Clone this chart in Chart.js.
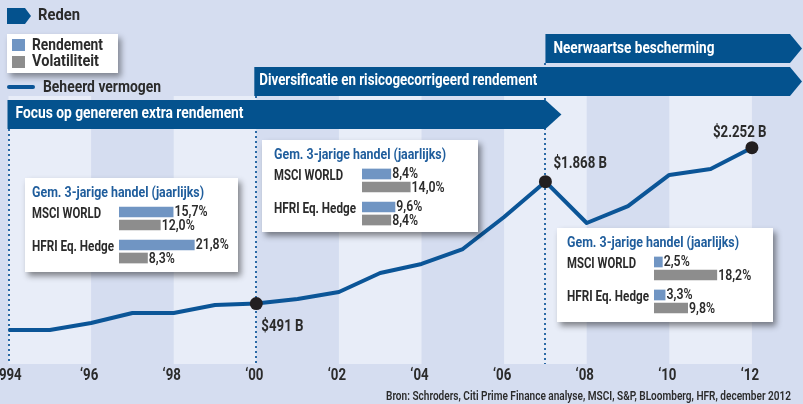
<!DOCTYPE html>
<html>
<head>
<meta charset="utf-8">
<script src="https://cdn.jsdelivr.net/npm/chart.js@4.4.1/dist/chart.umd.min.js"></script>
<style>
    html, body { margin: 0; padding: 0; background: #d5ddf0; }
    #wrap { position: relative; width: 803px; height: 404px; overflow: hidden; }
    #main { position: absolute; left: 0; top: 0; }
    .box { position: absolute; background: #fff; box-shadow: 3px 4px 6px rgba(0, 0, 0, 0.45); }
    .box canvas { position: absolute; left: 0; top: 0; }
</style>
</head>
<body>
<div id="wrap">
    <canvas id="main" width="803" height="404"></canvas>
    <div class="box" id="box1"><canvas id="c1"></canvas></div>
    <div class="box" id="box2"><canvas id="c2"></canvas></div>
    <div class="box" id="box3"><canvas id="c3"></canvas></div>
</div>
<script>
// Beheerd vermogen (miljard $) per jaar
const years = [1994, 1995, 1996, 1997, 1998, 1999, 2000, 2001, 2002, 2003, 2004, 2005, 2006, 2007, 2008, 2009, 2010, 2011, 2012];
const aum = [192, 192, 271, 384, 384, 475, 491, 542, 622, 836, 938, 1107, 1469, 1868, 1401, 1593, 1944, 2011, 2252];

const markedYears = [2000, 2007, 2012];
const markedLabels = ['$491 B', '$1.868 B', '$2.252 B'];

const tickYears = [1994, 1996, 1998, 2000, 2002, 2004, 2006, 2008, 2010, 2012];
const tickLabels = ['1994', '\u201896', '\u201898', '\u201800', '\u201802', '\u201804', '\u201806', '\u201808', '\u201810', '\u201812'];

const phaseNames = ['Focus op genereren extra rendement', 'Diversificatie en risicogecorrigeerd rendement', 'Neerwaartse bescherming'];
const phaseStart = [1994, 2000, 2007];

const boxTitle = 'Gem. 3-jarige handel (jaarlijks)';
const boxRows = ['MSCI WORLD', 'HFRI Eq. Hedge'];
const rendement1 = [15.7, 21.8];
const volatiliteit1 = [12.0, 8.3];
const rendement2 = [8.4, 9.6];
const volatiliteit2 = [14.0, 8.4];
const rendement3 = [2.5, 3.3];
const volatiliteit3 = [18.2, 9.8];

const sourceText = 'Bron: Schroders, Citi Prime Finance analyse, MSCI, S&P, BLoomberg, HFR, december 2012';

// colours
const BG_LIGHT = '#e8edf8';
const NAVY = '#04528e';
const LINE = '#0b5597';
const TEXT = '#2b2b2b';
const TITLE_BLUE = '#1f5d9c';
const BAR_BLUE = '#7095c3';
const BAR_GREY = '#8d8d8d';
const FONT = 'Roboto, "Liberation Sans", sans-serif';

// draw text, optionally squeezed to a target width
function drawText(ctx, text, x, y, opts) {
    ctx.save();
    ctx.font = opts.font;
    ctx.fillStyle = opts.color || TEXT;
    ctx.textBaseline = 'middle';
    const w = ctx.measureText(text).width;
    const sx = opts.width ? opts.width / w : (opts.sx || 0.82);
    let left = x;
    if (opts.align === 'center') left = x - w * sx / 2;
    if (opts.align === 'right') left = x - w * sx;
    ctx.translate(left, y);
    ctx.scale(sx, 1);
    ctx.textAlign = 'left';
    ctx.fillText(text, 0, 0);
    ctx.restore();
}

function banner(ctx, x0, x1, top, h, tip) {
    ctx.beginPath();
    ctx.moveTo(x0, top);
    ctx.lineTo(x1, top);
    ctx.lineTo(x1 + tip, top + h / 2);
    ctx.lineTo(x1, top + h);
    ctx.lineTo(x0, top + h);
    ctx.closePath();
    ctx.fill();
}

const backdrop = {
    id: 'backdrop',
    beforeDatasetsDraw(chart) {
        const ctx = chart.ctx;
        const xs = chart.scales.x;
        ctx.save();
        // stripes
        ctx.fillStyle = BG_LIGHT;
        for (let i = 0; i < tickYears.length - 1; i += 2) {
            const a = xs.getPixelForValue(tickYears[i]);
            const b = xs.getPixelForValue(tickYears[i + 1]);
            ctx.fillRect(a, 96, b - a, 268);
        }
        // dotted phase lines
        const lineTops = [129, 96, 63];
        ctx.strokeStyle = '#2b6aa6';
        ctx.lineWidth = 2;
        ctx.setLineDash([2, 3]);
        phaseStart.forEach((yr, i) => {
            const px = Math.round(xs.getPixelForValue(yr));
            ctx.beginPath();
            ctx.moveTo(px, lineTops[i]);
            ctx.lineTo(px, 364);
            ctx.stroke();
        });
        ctx.setLineDash([]);

        // banners
        ctx.fillStyle = NAVY;
        const p0 = xs.getPixelForValue(phaseStart[0]);
        const p1 = xs.getPixelForValue(phaseStart[1]);
        const p2 = xs.getPixelForValue(phaseStart[2]);
        banner(ctx, p2, 790, 34, 29, 12);
        banner(ctx, p1 - 2, 790, 67, 29, 12);
        banner(ctx, p0 - 1, p2, 100, 29, 16);
        drawText(ctx, phaseNames[2], p2 + 8, 49, { font: 'bold 16px ' + FONT, color: '#fff', width: 161 });
        drawText(ctx, phaseNames[1], p1 + 3, 81, { font: 'bold 16px ' + FONT, color: '#fff', width: 278 });
        drawText(ctx, phaseNames[0], p0 + 7, 114, { font: 'bold 16px ' + FONT, color: '#fff', width: 228 });

        // legend
        ctx.fillStyle = NAVY;
        banner(ctx, 7, 25, 8, 16, 6);
        drawText(ctx, 'Reden', 38, 16, { font: 'bold 16px ' + FONT, width: 42 });

        ctx.save();
        ctx.shadowColor = 'rgba(0,0,0,0.4)';
        ctx.shadowBlur = 6;
        ctx.shadowOffsetX = 3;
        ctx.shadowOffsetY = 4;
        ctx.fillStyle = '#fff';
        ctx.fillRect(7, 34, 111, 39);
        ctx.restore();
        ctx.fillStyle = BAR_BLUE;
        ctx.fillRect(12, 39, 13, 12);
        ctx.fillStyle = BAR_GREY;
        ctx.fillRect(12, 56, 13, 12);
        drawText(ctx, 'Rendement', 32, 46, { font: 'bold 16px ' + FONT, width: 71 });
        drawText(ctx, 'Volatiliteit', 32, 62, { font: 'bold 16px ' + FONT, width: 67 });

        ctx.strokeStyle = LINE;
        ctx.lineWidth = 4;
        ctx.lineCap = 'round';
        ctx.beginPath();
        ctx.moveTo(9, 87);
        ctx.lineTo(33, 87);
        ctx.stroke();
        drawText(ctx, 'Beheerd vermogen', 43, 88, { font: 'bold 16px ' + FONT, width: 118 });
        ctx.restore();
    },
    afterDatasetsDraw(chart) {
        const ctx = chart.ctx;
        const xs = chart.scales.x;
        const ys = chart.scales.y;
        // point labels
        const offs = [[5, 23], [8, -18], [-39, -15]];
        markedYears.forEach((yr, i) => {
            const v = aum[years.indexOf(yr)];
            const px = xs.getPixelForValue(yr) + offs[i][0];
            const py = ys.getPixelForValue(v) + offs[i][1];
            drawText(ctx, markedLabels[i], px, py, { font: 'bold 17px ' + FONT, sx: 0.78 });
        });
        // year ticks
        tickYears.forEach((yr, i) => {
            const px = xs.getPixelForValue(yr) - 2;
            drawText(ctx, tickLabels[i], px, 376, { font: 'bold 17px ' + FONT, align: 'center', sx: 0.78 });
        });
        drawText(ctx, sourceText, 791, 397, { font: '600 12px ' + FONT, align: 'right', width: 405 });
    }
};

new Chart(document.getElementById('main'), {
    type: 'line',
    data: {
        datasets: [{
            label: 'Beheerd vermogen',
            data: years.map((yr, i) => ({ x: yr, y: aum[i] })),
            borderColor: LINE,
            borderWidth: 4,
            borderJoinStyle: 'round',
            tension: 0,
            pointRadius: ctx => markedYears.includes(years[ctx.dataIndex]) ? 6.5 : 0,
            pointBackgroundColor: '#231f20',
            pointBorderColor: '#231f20',
            pointBorderWidth: 0
        }]
    },
    options: {
        responsive: false,
        animation: false,
        devicePixelRatio: 1,
        layout: { padding: 0, autoPadding: false },
        plugins: { legend: { display: false }, tooltip: { enabled: false } },
        scales: {
            x: { type: 'linear', display: false, min: 1993.794, max: 2013.237 },
            y: { type: 'linear', display: false, min: -644, max: 3921 }
        }
    },
    plugins: [backdrop]
});

// inset bar charts
function makeBox(boxId, canvasId, rend, vola, lay) {
    const box = document.getElementById(boxId);
    box.style.left = lay.left + 'px';
    box.style.top = lay.top + 'px';
    box.style.width = lay.width + 'px';
    box.style.height = lay.height + 'px';
    const cv = document.getElementById(canvasId);
    cv.width = lay.width;
    cv.height = lay.height;

    const labels = {
        id: 'boxLabels',
        afterDatasetsDraw(chart) {
            const ctx = chart.ctx;
            drawText(ctx, boxTitle, lay.textLeft, 15, { font: 'bold 15px ' + FONT, color: TITLE_BLUE, width: 172 });
            const m0 = chart.getDatasetMeta(0);
            const rowW = [69, 82];
            boxRows.forEach((r, i) => {
                drawText(ctx, r, lay.textLeft, m0.data[i].y + 2, { font: 'bold 15px ' + FONT, width: rowW[i] });
            });
            chart.data.datasets.forEach((ds, d) => {
                const meta = chart.getDatasetMeta(d);
                ds.data.forEach((v, i) => {
                    const bar = meta.data[i];
                    drawText(ctx, v.toFixed(1).replace('.', ',') + '%', bar.x + 1, bar.y + 1, { font: '600 14px ' + FONT, sx: 0.88 });
                });
            });
        }
    };

    new Chart(cv, {
        type: 'bar',
        data: {
            labels: boxRows,
            datasets: [
                { label: 'Rendement', data: rend, backgroundColor: BAR_BLUE },
                { label: 'Volatiliteit', data: vola, backgroundColor: BAR_GREY }
            ]
        },
        options: {
            indexAxis: 'y',
            responsive: false,
            animation: false,
            devicePixelRatio: 1,
            categoryPercentage: 0.79,
            barPercentage: 0.82,
            layout: { padding: { left: lay.padLeft, right: 0, top: 24, bottom: lay.height - 24 - 66 }, autoPadding: false },
            plugins: { legend: { display: false }, tooltip: { enabled: false } },
            scales: {
                x: { display: false, min: 0, max: (lay.width - lay.padLeft) / 3.47 },
                y: { display: false }
            }
        },
        plugins: [labels]
    });
}

makeBox('box1', 'c1', rendement1, volatiliteit1, { left: 25, top: 178, width: 213, height: 94, padLeft: 94, textLeft: 7 });
makeBox('box2', 'c2', rendement2, volatiliteit2, { left: 262, top: 140, width: 216, height: 92, padLeft: 100, textLeft: 12 });
makeBox('box3', 'c3', rendement3, volatiliteit3, { left: 557, top: 228, width: 216, height: 94, padLeft: 97, textLeft: 10 });
</script>
</body>
</html>
